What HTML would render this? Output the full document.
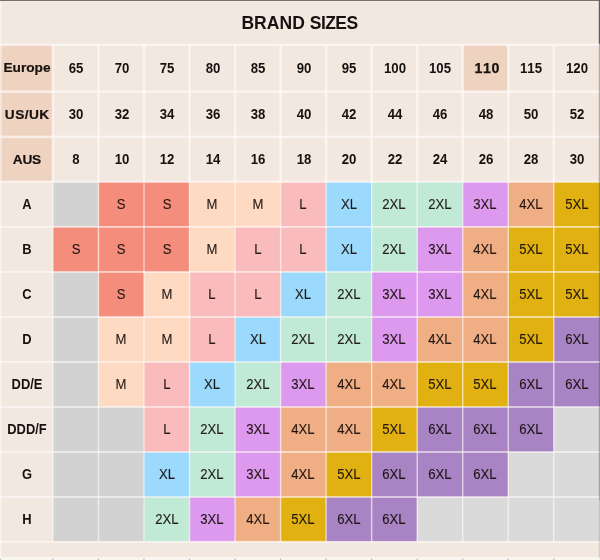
<!DOCTYPE html>
<html><head><meta charset="utf-8"><title>Brand Sizes</title>
<style>
html,body{margin:0;padding:0;background:#fff;}
body{width:600px;height:560px;position:relative;overflow:hidden;font-family:"Liberation Sans",sans-serif;color:#17120f;}
svg.bg{position:absolute;left:-8px;top:-8px;filter:blur(0.5px);}
svg.fg{position:absolute;left:0;top:0;filter:blur(0.35px);}
.t{filter:blur(0.3px);position:absolute;width:60px;height:24px;line-height:24px;text-align:center;white-space:nowrap;}
.h{font-weight:bold;font-size:13.7px;-webkit-text-stroke:0.2px #17120f;}
.n{font-weight:bold;font-size:14.2px;transform:scaleX(0.93);font-kerning:none;}
.n.hl{transform:none;letter-spacing:0.65px;-webkit-text-stroke:0.25px #17120f;}
.c{font-weight:bold;font-size:14px;transform:scaleX(0.921);}
.s{font-size:14.1px;transform:scaleX(0.93);color:rgba(20,12,8,0.92);-webkit-text-stroke:0.12px rgba(20,12,8,0.9);}
.title{filter:blur(0.3px);position:absolute;left:-0.5px;top:11px;width:600px;height:24px;line-height:24px;text-align:center;font-weight:bold;font-size:17.5px;white-space:nowrap;}
.title .a{letter-spacing:0.05px;}
.title .b{letter-spacing:-0.55px;}
</style></head><body>
<svg class="bg" width="616" height="576" viewBox="-8 -8 616 576">
<rect x="-8" y="-8" width="616" height="576" fill="#ffffff"/>
<rect x="-8" y="-8" width="616" height="189.3" fill="#faf2ef"/>
<rect x="-8.00" y="-8.00" width="616.00" height="52.80" fill="#f2e8e0"/>
<rect x="-8.00" y="44.80" width="60.95" height="46.90" fill="#efd3c1"/>
<rect x="52.95" y="44.80" width="45.53" height="46.90" fill="#f2e8e0"/>
<rect x="98.48" y="44.80" width="45.53" height="46.90" fill="#f2e8e0"/>
<rect x="144.01" y="44.80" width="45.53" height="46.90" fill="#f2e8e0"/>
<rect x="189.54" y="44.80" width="45.53" height="46.90" fill="#f2e8e0"/>
<rect x="235.07" y="44.80" width="45.53" height="46.90" fill="#f2e8e0"/>
<rect x="280.60" y="44.80" width="45.53" height="46.90" fill="#f2e8e0"/>
<rect x="326.13" y="44.80" width="45.53" height="46.90" fill="#f2e8e0"/>
<rect x="371.66" y="44.80" width="45.53" height="46.90" fill="#f2e8e0"/>
<rect x="417.19" y="44.80" width="45.53" height="46.90" fill="#f2e8e0"/>
<rect x="462.72" y="44.80" width="45.53" height="46.90" fill="#efd3c1"/>
<rect x="508.25" y="44.80" width="45.53" height="46.90" fill="#f2e8e0"/>
<rect x="553.78" y="44.80" width="54.22" height="46.90" fill="#f2e8e0"/>
<rect x="-8.00" y="91.70" width="60.95" height="45.20" fill="#efd3c1"/>
<rect x="52.95" y="91.70" width="45.53" height="45.20" fill="#f2e8e0"/>
<rect x="98.48" y="91.70" width="45.53" height="45.20" fill="#f2e8e0"/>
<rect x="144.01" y="91.70" width="45.53" height="45.20" fill="#f2e8e0"/>
<rect x="189.54" y="91.70" width="45.53" height="45.20" fill="#f2e8e0"/>
<rect x="235.07" y="91.70" width="45.53" height="45.20" fill="#f2e8e0"/>
<rect x="280.60" y="91.70" width="45.53" height="45.20" fill="#f2e8e0"/>
<rect x="326.13" y="91.70" width="45.53" height="45.20" fill="#f2e8e0"/>
<rect x="371.66" y="91.70" width="45.53" height="45.20" fill="#f2e8e0"/>
<rect x="417.19" y="91.70" width="45.53" height="45.20" fill="#f2e8e0"/>
<rect x="462.72" y="91.70" width="45.53" height="45.20" fill="#f2e8e0"/>
<rect x="508.25" y="91.70" width="45.53" height="45.20" fill="#f2e8e0"/>
<rect x="553.78" y="91.70" width="54.22" height="45.20" fill="#f2e8e0"/>
<rect x="-8.00" y="136.90" width="60.95" height="44.90" fill="#efd3c1"/>
<rect x="52.95" y="136.90" width="45.53" height="44.90" fill="#f2e8e0"/>
<rect x="98.48" y="136.90" width="45.53" height="44.90" fill="#f2e8e0"/>
<rect x="144.01" y="136.90" width="45.53" height="44.90" fill="#f2e8e0"/>
<rect x="189.54" y="136.90" width="45.53" height="44.90" fill="#f2e8e0"/>
<rect x="235.07" y="136.90" width="45.53" height="44.90" fill="#f2e8e0"/>
<rect x="280.60" y="136.90" width="45.53" height="44.90" fill="#f2e8e0"/>
<rect x="326.13" y="136.90" width="45.53" height="44.90" fill="#f2e8e0"/>
<rect x="371.66" y="136.90" width="45.53" height="44.90" fill="#f2e8e0"/>
<rect x="417.19" y="136.90" width="45.53" height="44.90" fill="#f2e8e0"/>
<rect x="462.72" y="136.90" width="45.53" height="44.90" fill="#f2e8e0"/>
<rect x="508.25" y="136.90" width="45.53" height="44.90" fill="#f2e8e0"/>
<rect x="553.78" y="136.90" width="54.22" height="44.90" fill="#f2e8e0"/>
<rect x="-8.00" y="181.80" width="60.95" height="45.10" fill="#f2e8e0"/>
<rect x="52.95" y="181.80" width="45.53" height="45.10" fill="#d2d2d3"/>
<rect x="98.48" y="181.80" width="45.53" height="45.10" fill="#f58d7c"/>
<rect x="144.01" y="181.80" width="45.53" height="45.10" fill="#f58d7c"/>
<rect x="189.54" y="181.80" width="45.53" height="45.10" fill="#fedac3"/>
<rect x="235.07" y="181.80" width="45.53" height="45.10" fill="#fedac3"/>
<rect x="280.60" y="181.80" width="45.53" height="45.10" fill="#fabbbc"/>
<rect x="326.13" y="181.80" width="45.53" height="45.10" fill="#9bd9fd"/>
<rect x="371.66" y="181.80" width="45.53" height="45.10" fill="#c0e9d6"/>
<rect x="417.19" y="181.80" width="45.53" height="45.10" fill="#c0e9d6"/>
<rect x="462.72" y="181.80" width="45.53" height="45.10" fill="#dd99ed"/>
<rect x="508.25" y="181.80" width="45.53" height="45.10" fill="#f0ae84"/>
<rect x="553.78" y="181.80" width="54.22" height="45.10" fill="#e1b112"/>
<rect x="-8.00" y="226.90" width="60.95" height="45.05" fill="#f2e8e0"/>
<rect x="52.95" y="226.90" width="45.53" height="45.05" fill="#f58d7c"/>
<rect x="98.48" y="226.90" width="45.53" height="45.05" fill="#f58d7c"/>
<rect x="144.01" y="226.90" width="45.53" height="45.05" fill="#f58d7c"/>
<rect x="189.54" y="226.90" width="45.53" height="45.05" fill="#fedac3"/>
<rect x="235.07" y="226.90" width="45.53" height="45.05" fill="#fabbbc"/>
<rect x="280.60" y="226.90" width="45.53" height="45.05" fill="#fabbbc"/>
<rect x="326.13" y="226.90" width="45.53" height="45.05" fill="#9bd9fd"/>
<rect x="371.66" y="226.90" width="45.53" height="45.05" fill="#c0e9d6"/>
<rect x="417.19" y="226.90" width="45.53" height="45.05" fill="#dd99ed"/>
<rect x="462.72" y="226.90" width="45.53" height="45.05" fill="#f0ae84"/>
<rect x="508.25" y="226.90" width="45.53" height="45.05" fill="#e1b112"/>
<rect x="553.78" y="226.90" width="54.22" height="45.05" fill="#e1b112"/>
<rect x="-8.00" y="271.95" width="60.95" height="45.05" fill="#f2e8e0"/>
<rect x="52.95" y="271.95" width="45.53" height="45.05" fill="#d2d2d3"/>
<rect x="98.48" y="271.95" width="45.53" height="45.05" fill="#f58d7c"/>
<rect x="144.01" y="271.95" width="45.53" height="45.05" fill="#fedac3"/>
<rect x="189.54" y="271.95" width="45.53" height="45.05" fill="#fabbbc"/>
<rect x="235.07" y="271.95" width="45.53" height="45.05" fill="#fabbbc"/>
<rect x="280.60" y="271.95" width="45.53" height="45.05" fill="#9bd9fd"/>
<rect x="326.13" y="271.95" width="45.53" height="45.05" fill="#c0e9d6"/>
<rect x="371.66" y="271.95" width="45.53" height="45.05" fill="#dd99ed"/>
<rect x="417.19" y="271.95" width="45.53" height="45.05" fill="#dd99ed"/>
<rect x="462.72" y="271.95" width="45.53" height="45.05" fill="#f0ae84"/>
<rect x="508.25" y="271.95" width="45.53" height="45.05" fill="#e1b112"/>
<rect x="553.78" y="271.95" width="54.22" height="45.05" fill="#e1b112"/>
<rect x="-8.00" y="317.00" width="60.95" height="45.00" fill="#f2e8e0"/>
<rect x="52.95" y="317.00" width="45.53" height="45.00" fill="#d2d2d3"/>
<rect x="98.48" y="317.00" width="45.53" height="45.00" fill="#fedac3"/>
<rect x="144.01" y="317.00" width="45.53" height="45.00" fill="#fedac3"/>
<rect x="189.54" y="317.00" width="45.53" height="45.00" fill="#fabbbc"/>
<rect x="235.07" y="317.00" width="45.53" height="45.00" fill="#9bd9fd"/>
<rect x="280.60" y="317.00" width="45.53" height="45.00" fill="#c0e9d6"/>
<rect x="326.13" y="317.00" width="45.53" height="45.00" fill="#c0e9d6"/>
<rect x="371.66" y="317.00" width="45.53" height="45.00" fill="#dd99ed"/>
<rect x="417.19" y="317.00" width="45.53" height="45.00" fill="#f0ae84"/>
<rect x="462.72" y="317.00" width="45.53" height="45.00" fill="#f0ae84"/>
<rect x="508.25" y="317.00" width="45.53" height="45.00" fill="#e1b112"/>
<rect x="553.78" y="317.00" width="54.22" height="45.00" fill="#a984c4"/>
<rect x="-8.00" y="362.00" width="60.95" height="45.00" fill="#f2e8e0"/>
<rect x="52.95" y="362.00" width="45.53" height="45.00" fill="#d2d2d3"/>
<rect x="98.48" y="362.00" width="45.53" height="45.00" fill="#fedac3"/>
<rect x="144.01" y="362.00" width="45.53" height="45.00" fill="#fabbbc"/>
<rect x="189.54" y="362.00" width="45.53" height="45.00" fill="#9bd9fd"/>
<rect x="235.07" y="362.00" width="45.53" height="45.00" fill="#c0e9d6"/>
<rect x="280.60" y="362.00" width="45.53" height="45.00" fill="#dd99ed"/>
<rect x="326.13" y="362.00" width="45.53" height="45.00" fill="#f0ae84"/>
<rect x="371.66" y="362.00" width="45.53" height="45.00" fill="#f0ae84"/>
<rect x="417.19" y="362.00" width="45.53" height="45.00" fill="#e1b112"/>
<rect x="462.72" y="362.00" width="45.53" height="45.00" fill="#e1b112"/>
<rect x="508.25" y="362.00" width="45.53" height="45.00" fill="#a984c4"/>
<rect x="553.78" y="362.00" width="54.22" height="45.00" fill="#a984c4"/>
<rect x="-8.00" y="407.00" width="60.95" height="45.00" fill="#f2e8e0"/>
<rect x="52.95" y="407.00" width="45.53" height="45.00" fill="#d2d2d3"/>
<rect x="98.48" y="407.00" width="45.53" height="45.00" fill="#d2d2d3"/>
<rect x="144.01" y="407.00" width="45.53" height="45.00" fill="#fabbbc"/>
<rect x="189.54" y="407.00" width="45.53" height="45.00" fill="#c0e9d6"/>
<rect x="235.07" y="407.00" width="45.53" height="45.00" fill="#dd99ed"/>
<rect x="280.60" y="407.00" width="45.53" height="45.00" fill="#f0ae84"/>
<rect x="326.13" y="407.00" width="45.53" height="45.00" fill="#f0ae84"/>
<rect x="371.66" y="407.00" width="45.53" height="45.00" fill="#e1b112"/>
<rect x="417.19" y="407.00" width="45.53" height="45.00" fill="#a984c4"/>
<rect x="462.72" y="407.00" width="45.53" height="45.00" fill="#a984c4"/>
<rect x="508.25" y="407.00" width="45.53" height="45.00" fill="#a984c4"/>
<rect x="553.78" y="407.00" width="54.22" height="45.00" fill="#dadada"/>
<rect x="-8.00" y="452.00" width="60.95" height="45.00" fill="#f2e8e0"/>
<rect x="52.95" y="452.00" width="45.53" height="45.00" fill="#d2d2d3"/>
<rect x="98.48" y="452.00" width="45.53" height="45.00" fill="#d2d2d3"/>
<rect x="144.01" y="452.00" width="45.53" height="45.00" fill="#9bd9fd"/>
<rect x="189.54" y="452.00" width="45.53" height="45.00" fill="#c0e9d6"/>
<rect x="235.07" y="452.00" width="45.53" height="45.00" fill="#dd99ed"/>
<rect x="280.60" y="452.00" width="45.53" height="45.00" fill="#f0ae84"/>
<rect x="326.13" y="452.00" width="45.53" height="45.00" fill="#e1b112"/>
<rect x="371.66" y="452.00" width="45.53" height="45.00" fill="#a984c4"/>
<rect x="417.19" y="452.00" width="45.53" height="45.00" fill="#a984c4"/>
<rect x="462.72" y="452.00" width="45.53" height="45.00" fill="#a984c4"/>
<rect x="508.25" y="452.00" width="45.53" height="45.00" fill="#dadada"/>
<rect x="553.78" y="452.00" width="54.22" height="45.00" fill="#dadada"/>
<rect x="-8.00" y="497.00" width="60.95" height="44.80" fill="#f2e8e0"/>
<rect x="52.95" y="497.00" width="45.53" height="44.80" fill="#d2d2d3"/>
<rect x="98.48" y="497.00" width="45.53" height="44.80" fill="#d2d2d3"/>
<rect x="144.01" y="497.00" width="45.53" height="44.80" fill="#c0e9d6"/>
<rect x="189.54" y="497.00" width="45.53" height="44.80" fill="#dd99ed"/>
<rect x="235.07" y="497.00" width="45.53" height="44.80" fill="#f0ae84"/>
<rect x="280.60" y="497.00" width="45.53" height="44.80" fill="#e1b112"/>
<rect x="326.13" y="497.00" width="45.53" height="44.80" fill="#a984c4"/>
<rect x="371.66" y="497.00" width="45.53" height="44.80" fill="#a984c4"/>
<rect x="417.19" y="497.00" width="45.53" height="44.80" fill="#dadada"/>
<rect x="462.72" y="497.00" width="45.53" height="44.80" fill="#dadada"/>
<rect x="508.25" y="497.00" width="45.53" height="44.80" fill="#dadada"/>
<rect x="553.78" y="497.00" width="54.22" height="44.80" fill="#dadada"/>
<rect x="-8.00" y="541.80" width="616.00" height="15.40" fill="#f2e8e0"/>
<rect x="-8" y="43.55" width="616" height="2.50" fill="rgba(255,251,249,0.64)"/>
<rect x="-8" y="90.45" width="616" height="2.50" fill="rgba(255,251,249,0.64)"/>
<rect x="-8" y="135.65" width="616" height="2.50" fill="rgba(255,251,249,0.64)"/>
<rect x="-8" y="180.70" width="616" height="2.20" fill="rgba(255,251,249,0.64)"/>
<rect x="-8" y="226.00" width="616" height="1.80" fill="rgba(255,251,249,0.64)"/>
<rect x="-8" y="271.05" width="616" height="1.80" fill="rgba(255,251,249,0.64)"/>
<rect x="-8" y="316.10" width="616" height="1.80" fill="rgba(255,251,249,0.64)"/>
<rect x="-8" y="361.10" width="616" height="1.80" fill="rgba(255,251,249,0.64)"/>
<rect x="-8" y="406.10" width="616" height="1.80" fill="rgba(255,251,249,0.64)"/>
<rect x="-8" y="451.10" width="616" height="1.80" fill="rgba(255,251,249,0.64)"/>
<rect x="-8" y="496.10" width="616" height="1.80" fill="rgba(255,251,249,0.64)"/>
<rect x="-8" y="540.90" width="616" height="1.80" fill="rgba(255,251,249,0.64)"/>
<rect x="51.70" y="44.80" width="2.50" height="137.00" fill="rgba(255,251,249,0.64)"/>
<rect x="52.20" y="181.80" width="1.5" height="360.00" fill="rgba(255,251,249,0.55)"/>
<rect x="97.23" y="44.80" width="2.50" height="137.00" fill="rgba(255,251,249,0.64)"/>
<rect x="97.73" y="181.80" width="1.5" height="360.00" fill="rgba(255,251,249,0.55)"/>
<rect x="142.76" y="44.80" width="2.50" height="137.00" fill="rgba(255,251,249,0.64)"/>
<rect x="143.26" y="181.80" width="1.5" height="360.00" fill="rgba(255,251,249,0.55)"/>
<rect x="188.29" y="44.80" width="2.50" height="137.00" fill="rgba(255,251,249,0.64)"/>
<rect x="188.79" y="181.80" width="1.5" height="360.00" fill="rgba(255,251,249,0.55)"/>
<rect x="233.82" y="44.80" width="2.50" height="137.00" fill="rgba(255,251,249,0.64)"/>
<rect x="234.32" y="181.80" width="1.5" height="360.00" fill="rgba(255,251,249,0.55)"/>
<rect x="279.35" y="44.80" width="2.50" height="137.00" fill="rgba(255,251,249,0.64)"/>
<rect x="279.85" y="181.80" width="1.5" height="360.00" fill="rgba(255,251,249,0.55)"/>
<rect x="324.88" y="44.80" width="2.50" height="137.00" fill="rgba(255,251,249,0.64)"/>
<rect x="325.38" y="181.80" width="1.5" height="360.00" fill="rgba(255,251,249,0.55)"/>
<rect x="370.41" y="44.80" width="2.50" height="137.00" fill="rgba(255,251,249,0.64)"/>
<rect x="370.91" y="181.80" width="1.5" height="360.00" fill="rgba(255,251,249,0.55)"/>
<rect x="415.94" y="44.80" width="2.50" height="137.00" fill="rgba(255,251,249,0.64)"/>
<rect x="416.44" y="181.80" width="1.5" height="360.00" fill="rgba(255,251,249,0.55)"/>
<rect x="461.47" y="44.80" width="2.50" height="137.00" fill="rgba(255,251,249,0.64)"/>
<rect x="461.97" y="181.80" width="1.5" height="360.00" fill="rgba(255,251,249,0.55)"/>
<rect x="507.00" y="44.80" width="2.50" height="137.00" fill="rgba(255,251,249,0.64)"/>
<rect x="507.50" y="181.80" width="1.5" height="360.00" fill="rgba(255,251,249,0.55)"/>
<rect x="552.53" y="44.80" width="2.50" height="137.00" fill="rgba(255,251,249,0.64)"/>
<rect x="553.03" y="181.80" width="1.5" height="360.00" fill="rgba(255,251,249,0.55)"/>
<rect x="-8" y="-8" width="9.6" height="576" fill="rgba(255,251,249,0.55)"/>
<rect x="-8" y="557.2" width="616" height="12" fill="#f9f5ef"/>
</svg>
<svg class="fg" width="600" height="560" viewBox="0 0 600 560">
<rect x="0" y="0" width="600" height="1.1" fill="#7a706a"/>
<rect x="0" y="1.1" width="598.8" height="1.3" fill="rgba(255,251,249,0.5)"/>
<rect x="598.8" y="0" width="1.2" height="43.8" fill="#5e5a60"/>
<rect x="598.8" y="43.8" width="1.2" height="456" fill="rgba(70,70,75,0.38)"/>
<rect x="598.8" y="499.8" width="1.2" height="58" fill="rgba(70,70,75,0.16)"/>
<rect x="-0.30" y="558.6" width="1.3" height="1.4" fill="#bcb9b5"/><rect x="52.25" y="558.6" width="1.3" height="1.4" fill="#bcb9b5"/><rect x="97.78" y="558.6" width="1.3" height="1.4" fill="#bcb9b5"/><rect x="143.31" y="558.6" width="1.3" height="1.4" fill="#bcb9b5"/><rect x="188.84" y="558.6" width="1.3" height="1.4" fill="#bcb9b5"/><rect x="234.37" y="558.6" width="1.3" height="1.4" fill="#bcb9b5"/><rect x="279.90" y="558.6" width="1.3" height="1.4" fill="#bcb9b5"/><rect x="325.43" y="558.6" width="1.3" height="1.4" fill="#bcb9b5"/><rect x="370.96" y="558.6" width="1.3" height="1.4" fill="#bcb9b5"/><rect x="416.49" y="558.6" width="1.3" height="1.4" fill="#bcb9b5"/><rect x="462.02" y="558.6" width="1.3" height="1.4" fill="#bcb9b5"/><rect x="507.55" y="558.6" width="1.3" height="1.4" fill="#bcb9b5"/><rect x="553.08" y="558.6" width="1.3" height="1.4" fill="#bcb9b5"/>
</svg>
<div class="title"><span class="a">BRAND </span><span class="b">SIZES</span></div>
<div class="t h" style="left:-3.02px;top:56px;letter-spacing:0.0px">Europe</div>
<div class="t n" style="left:46.12px;top:56px">65</div>
<div class="t n" style="left:91.65px;top:56px">70</div>
<div class="t n" style="left:137.18px;top:56px">75</div>
<div class="t n" style="left:182.71px;top:56px">80</div>
<div class="t n" style="left:228.24px;top:56px">85</div>
<div class="t n" style="left:273.76px;top:56px">90</div>
<div class="t n" style="left:319.29px;top:56px">95</div>
<div class="t n" style="left:364.82px;top:56px">100</div>
<div class="t n" style="left:410.35px;top:56px">105</div>
<div class="t n hl" style="left:457.19px;top:56px">110</div>
<div class="t n" style="left:501.42px;top:56px">115</div>
<div class="t n" style="left:546.95px;top:56px">120</div>
<div class="t h" style="left:-2.81px;top:103px;letter-spacing:0.42px">US/UK</div>
<div class="t n" style="left:46.12px;top:102px">30</div>
<div class="t n" style="left:91.65px;top:102px">32</div>
<div class="t n" style="left:137.18px;top:102px">34</div>
<div class="t n" style="left:182.71px;top:102px">36</div>
<div class="t n" style="left:228.24px;top:102px">38</div>
<div class="t n" style="left:273.76px;top:102px">40</div>
<div class="t n" style="left:319.29px;top:102px">42</div>
<div class="t n" style="left:364.82px;top:102px">44</div>
<div class="t n" style="left:410.35px;top:102px">46</div>
<div class="t n" style="left:455.88px;top:102px">48</div>
<div class="t n" style="left:501.42px;top:102px">50</div>
<div class="t n" style="left:546.95px;top:102px">52</div>
<div class="t h" style="left:-3.17px;top:148px;letter-spacing:-0.3px">AUS</div>
<div class="t n" style="left:46.12px;top:147px">8</div>
<div class="t n" style="left:91.65px;top:147px">10</div>
<div class="t n" style="left:137.18px;top:147px">12</div>
<div class="t n" style="left:182.71px;top:147px">14</div>
<div class="t n" style="left:228.24px;top:147px">16</div>
<div class="t n" style="left:273.76px;top:147px">18</div>
<div class="t n" style="left:319.29px;top:147px">20</div>
<div class="t n" style="left:364.82px;top:147px">22</div>
<div class="t n" style="left:410.35px;top:147px">24</div>
<div class="t n" style="left:455.88px;top:147px">26</div>
<div class="t n" style="left:501.42px;top:147px">28</div>
<div class="t n" style="left:546.95px;top:147px">30</div>
<div class="t c" style="left:-3.02px;top:192px">A</div>
<div class="t s" style="left:91.25px;top:192px">S</div>
<div class="t s" style="left:136.78px;top:192px">S</div>
<div class="t s" style="left:182.31px;top:192px">M</div>
<div class="t s" style="left:227.84px;top:192px">M</div>
<div class="t s" style="left:273.37px;top:192px">L</div>
<div class="t s" style="left:318.89px;top:192px">XL</div>
<div class="t s" style="left:364.43px;top:192px">2XL</div>
<div class="t s" style="left:409.95px;top:192px">2XL</div>
<div class="t s" style="left:455.49px;top:192px">3XL</div>
<div class="t s" style="left:501.02px;top:192px">4XL</div>
<div class="t s" style="left:546.55px;top:192px">5XL</div>
<div class="t c" style="left:-3.02px;top:237px">B</div>
<div class="t s" style="left:45.72px;top:237px">S</div>
<div class="t s" style="left:91.25px;top:237px">S</div>
<div class="t s" style="left:136.78px;top:237px">S</div>
<div class="t s" style="left:182.31px;top:237px">M</div>
<div class="t s" style="left:227.84px;top:237px">L</div>
<div class="t s" style="left:273.37px;top:237px">L</div>
<div class="t s" style="left:318.89px;top:237px">XL</div>
<div class="t s" style="left:364.43px;top:237px">2XL</div>
<div class="t s" style="left:409.95px;top:237px">3XL</div>
<div class="t s" style="left:455.49px;top:237px">4XL</div>
<div class="t s" style="left:501.02px;top:237px">5XL</div>
<div class="t s" style="left:546.55px;top:237px">5XL</div>
<div class="t c" style="left:-3.02px;top:282px">C</div>
<div class="t s" style="left:91.25px;top:282px">S</div>
<div class="t s" style="left:136.78px;top:282px">M</div>
<div class="t s" style="left:182.31px;top:282px">L</div>
<div class="t s" style="left:227.84px;top:282px">L</div>
<div class="t s" style="left:273.37px;top:282px">XL</div>
<div class="t s" style="left:318.89px;top:282px">2XL</div>
<div class="t s" style="left:364.43px;top:282px">3XL</div>
<div class="t s" style="left:409.95px;top:282px">3XL</div>
<div class="t s" style="left:455.49px;top:282px">4XL</div>
<div class="t s" style="left:501.02px;top:282px">5XL</div>
<div class="t s" style="left:546.55px;top:282px">5XL</div>
<div class="t c" style="left:-3.02px;top:327px">D</div>
<div class="t s" style="left:91.25px;top:327px">M</div>
<div class="t s" style="left:136.78px;top:327px">M</div>
<div class="t s" style="left:182.31px;top:327px">L</div>
<div class="t s" style="left:227.84px;top:327px">XL</div>
<div class="t s" style="left:273.37px;top:327px">2XL</div>
<div class="t s" style="left:318.89px;top:327px">2XL</div>
<div class="t s" style="left:364.43px;top:327px">3XL</div>
<div class="t s" style="left:409.95px;top:327px">4XL</div>
<div class="t s" style="left:455.49px;top:327px">4XL</div>
<div class="t s" style="left:501.02px;top:327px">5XL</div>
<div class="t s" style="left:546.55px;top:327px">6XL</div>
<div class="t c" style="left:-3.02px;top:372px">DD/E</div>
<div class="t s" style="left:91.25px;top:372px">M</div>
<div class="t s" style="left:136.78px;top:372px">L</div>
<div class="t s" style="left:182.31px;top:372px">XL</div>
<div class="t s" style="left:227.84px;top:372px">2XL</div>
<div class="t s" style="left:273.37px;top:372px">3XL</div>
<div class="t s" style="left:318.89px;top:372px">4XL</div>
<div class="t s" style="left:364.43px;top:372px">4XL</div>
<div class="t s" style="left:409.95px;top:372px">5XL</div>
<div class="t s" style="left:455.49px;top:372px">5XL</div>
<div class="t s" style="left:501.02px;top:372px">6XL</div>
<div class="t s" style="left:546.55px;top:372px">6XL</div>
<div class="t c" style="left:-3.02px;top:417px">DDD/F</div>
<div class="t s" style="left:136.78px;top:417px">L</div>
<div class="t s" style="left:182.31px;top:417px">2XL</div>
<div class="t s" style="left:227.84px;top:417px">3XL</div>
<div class="t s" style="left:273.37px;top:417px">4XL</div>
<div class="t s" style="left:318.89px;top:417px">4XL</div>
<div class="t s" style="left:364.43px;top:417px">5XL</div>
<div class="t s" style="left:409.95px;top:417px">6XL</div>
<div class="t s" style="left:455.49px;top:417px">6XL</div>
<div class="t s" style="left:501.02px;top:417px">6XL</div>
<div class="t c" style="left:-3.02px;top:462px">G</div>
<div class="t s" style="left:136.78px;top:462px">XL</div>
<div class="t s" style="left:182.31px;top:462px">2XL</div>
<div class="t s" style="left:227.84px;top:462px">3XL</div>
<div class="t s" style="left:273.37px;top:462px">4XL</div>
<div class="t s" style="left:318.89px;top:462px">5XL</div>
<div class="t s" style="left:364.43px;top:462px">6XL</div>
<div class="t s" style="left:409.95px;top:462px">6XL</div>
<div class="t s" style="left:455.49px;top:462px">6XL</div>
<div class="t c" style="left:-3.02px;top:507px">H</div>
<div class="t s" style="left:136.78px;top:507px">2XL</div>
<div class="t s" style="left:182.31px;top:507px">3XL</div>
<div class="t s" style="left:227.84px;top:507px">4XL</div>
<div class="t s" style="left:273.37px;top:507px">5XL</div>
<div class="t s" style="left:318.89px;top:507px">6XL</div>
<div class="t s" style="left:364.43px;top:507px">6XL</div>
</body></html>
